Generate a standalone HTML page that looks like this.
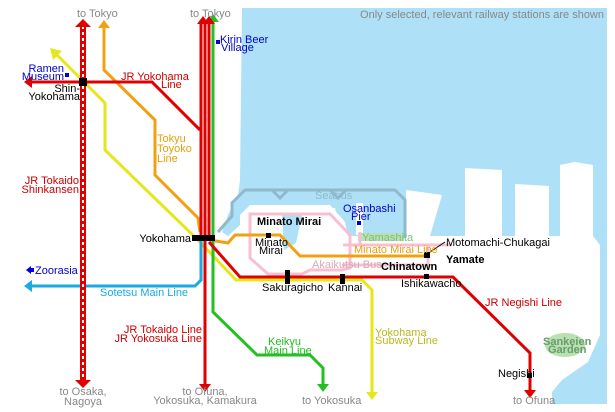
<!DOCTYPE html>
<html><head><meta charset="utf-8"><style>
html,body{margin:0;padding:0;background:#fff;}
svg{display:block;}
text{font-family:"Liberation Sans",sans-serif;font-size:11px;}
</style></head><body>
<svg width="615" height="412" viewBox="0 0 615 412" xmlns="http://www.w3.org/2000/svg">
<rect width="615" height="412" fill="#fff"/>
<!-- water -->
<path d="M242,8 L607,8 L607,404 L552,404 L552,392 L562,380 L588,362 L600,335 L600,245 L593,236 L593,165 L575,162 L560,165 L560,236 L549,236 L549,186 L515,184 L515,236 L502,236 L502,170 L465,168 L465,236 L442,236 L430,236 L442,195 L406,190 L406,236 L348,236 L345,222 L330,205 L250,205 L240,215 L240,225 L228,236 L222,232 L228,215 L238,195 L240,180 Z" fill="#aee1f7"/>
<path d="M282,215 L302,215 L296,243 L284,250 Z" fill="#aee1f7"/>
<path d="M305,208 L335,208 L338,222 L320,230 L305,222 Z" fill="#fff"/>
<rect x="356" y="203" width="7" height="32" fill="#fff"/>
<rect x="358" y="233" width="46" height="8" fill="#b8e0b0"/>
<ellipse cx="565" cy="345" rx="20" ry="12" fill="#b8e0b0"/>
<!-- seabus -->
<path d="M218,232 L232,216 L232,203 L245,190 L395,190 L405,200 L405,238" fill="none" stroke="#8fb9cc" stroke-width="3"/>
<path d="M272,190 L280,198 L288,190 M330,190 L338,198 L346,190" fill="none" stroke="#8fb9cc" stroke-width="3"/>
<!-- pink bus -->
<g fill="none" stroke="#f7c0d0" stroke-width="3">
<path d="M250,214 L330,214 L350,235 L350,268 L342,270 L310,270 L302,274 L268,274 L250,258 Z"/>
<path d="M343,245 L428,245 L428,265 L342,265 M428,245 L452,245"/>
<path d="M360,232 L360,245"/>
</g>
<!-- orange toyoko / MM line -->
<path d="M104,22 L104,70 L155,120 L155,175 L198,218 L200,232 M210,240 L228,243 L235,235 L280,235 L300,256 L430,256" fill="none" stroke="#f0a010" stroke-width="3"/>
<polygon points="98,28 104,20 110,28" fill="#f0a010"/>
<!-- yellow -->
<path d="M55,53 L105,103 L105,150 L198,240 L236,280 L362,280 L372,290 L372,394" fill="none" stroke="#e6e61a" stroke-width="3"/>
<polygon points="50,48 62,51 53,60" fill="#e6e61a"/>
<polygon points="366,392 378,392 372,400" fill="#e6e61a"/>
<!-- blue sotetsu -->
<path d="M201,238 L201,280 L195,286 L30,286" fill="none" stroke="#1aaae0" stroke-width="3"/>
<polygon points="24,286 32,280 32,292" fill="#1aaae0"/>
<!-- green keikyu -->
<path d="M213,22 L213,312 L257,355 L310,355 L323,368 L323,384" fill="none" stroke="#22c022" stroke-width="3"/>
<polygon points="207,22 213,14 219,22" fill="#22c022"/>
<polygon points="317,384 329,384 323,392" fill="#22c022"/>
<!-- red JR -->
<path d="M30,82 L152,82 L200,130" fill="none" stroke="#e00000" stroke-width="3"/>
<polygon points="24,82 32,76 32,88" fill="#e00000"/>
<path d="M201,130 L201,238 M205,22 L205,386 M209,22 L209,238 M201,22 L201,132" fill="none" stroke="#e00000" stroke-width="3"/>
<polygon points="197,24 203,16 209,24" fill="#e00000"/>
<polygon points="203,24 209,16 215,24" fill="#e00000"/>
<polygon points="199,384 211,384 205,392" fill="#e00000"/>
<path d="M209,242 L240,277 L453,277 L530,353 L530,390" fill="none" stroke="#e00000" stroke-width="3"/>
<polygon points="524,390 536,390 530,398" fill="#e00000"/>
<!-- shinkansen -->
<line x1="83" y1="26" x2="83" y2="382" stroke="#e00000" stroke-width="6"/>
<line x1="83" y1="26" x2="83" y2="382" stroke="#fff" stroke-width="2" stroke-dasharray="3,3"/>
<polygon points="75,27 83,19 91,27" fill="#e00000"/>
<polygon points="75,380 91,380 83,388" fill="#e00000"/>
<!-- stations -->
<rect x="79" y="78" width="8" height="8" fill="#000"/>
<rect x="192" y="235" width="23" height="6" fill="#000"/>
<rect x="266" y="233" width="5" height="5" fill="#000"/>
<rect x="285" y="270" width="5" height="14" fill="#000"/>
<rect x="340" y="274" width="5" height="10" fill="#000"/>
<rect x="424" y="274" width="5" height="5" fill="#000"/>
<rect x="424" y="252" width="6" height="6" fill="#000"/>
<rect x="527" y="373" width="5" height="5" fill="#000"/>
<line x1="430" y1="252" x2="445" y2="242" stroke="#000" stroke-width="1"/>
<rect x="65" y="73" width="4" height="4" fill="#0000dd"/>
<rect x="216" y="40" width="4" height="4" fill="#0000dd"/>
<rect x="357" y="221" width="4" height="4" fill="#0000dd"/>
<polygon points="26,270 31,266 31,274" fill="#0000dd"/><rect x="31" y="268" width="3" height="4" fill="#0000dd"/>
<!-- labels -->
<g fill="#888" font-size="10">
<text x="77" y="17" font-size="11">to Tokyo</text>
<text x="190" y="17" font-size="11">to Tokyo</text>
<text x="604" y="18" text-anchor="end">Only selected, relevant railway stations are shown</text>
<text x="83" y="395" text-anchor="middle">to Osaka,</text><text x="83" y="405" text-anchor="middle">Nagoya</text>
<text x="205" y="395" text-anchor="middle">to Ofuna,</text><text x="205" y="404" text-anchor="middle">Yokosuka, Kamakura</text>
<text x="302" y="404">to Yokosuka</text>
<text x="513" y="404">to Ofuna</text>
</g>
<g fill="#0000cc" font-size="10">
<text x="64" y="72" text-anchor="end">Ramen</text><text x="64" y="80" text-anchor="end">Museum</text>
<text x="220" y="43">Kirin Beer</text><text x="221" y="51">Village</text>
<text x="343" y="212">Osanbashi</text><text x="351" y="220">Pier</text>
<text x="35" y="274">Zoorasia</text>
</g>
<g fill="#000" font-size="10">
<text x="80" y="92" text-anchor="end">Shin-</text><text x="80" y="100" text-anchor="end">Yokohama</text>
<text x="191" y="242" text-anchor="end">Yokohama</text>
<text x="255" y="246">Minato</text><text x="259" y="254">Mirai</text>
<text x="262" y="291">Sakuragicho</text>
<text x="328" y="291">Kannai</text>
<text x="401" y="287">Ishikawacho</text>
<text x="446" y="246">Motomachi-Chukagai</text>
<text x="498" y="377">Negishi</text>
</g>
<g fill="#000" font-weight="bold" font-size="11">
<text x="257" y="225">Minato Mirai</text>
<text x="381" y="270">Chinatown</text>
<text x="446" y="263">Yamate</text>
</g>
<g fill="#cc0000" font-size="10">
<text x="121" y="80">JR Yokohama</text><text x="161" y="88">Line</text>
<text x="79" y="184" text-anchor="end">JR Tokaido</text><text x="79" y="193" text-anchor="end">Shinkansen</text>
<text x="202" y="333" text-anchor="end">JR Tokaido Line</text><text x="202" y="342" text-anchor="end">JR Yokosuka Line</text>
<text x="485" y="306">JR Negishi Line</text>
</g>
<g fill="#e8a010" font-size="10">
<text x="157" y="142">Tokyu</text><text x="157" y="152">Toyoko</text><text x="157" y="162">Line</text>
<text x="354" y="253">Minato Mirai Line</text>
</g>
<g fill="#b8b820" font-size="10">
<text x="375" y="336">Yokohama</text><text x="375" y="344">Subway Line</text>
</g>
<g fill="#22bb22" font-size="10"><text x="268" y="345">Keikyu</text><text x="264" y="354">Main Line</text></g>
<text x="100" y="296" fill="#1aaae0" font-size="10">Sotetsu Main Line</text>
<text x="315" y="199" fill="#8fb9cc" font-size="10">Seabus</text>
<text x="312" y="268" fill="#d8a8b8" font-size="10">Akaikutsu Bus</text>
<text x="362" y="241" fill="#80c080" font-size="10">Yamashita</text>
<g fill="#6a9a6a" font-size="10" font-weight="bold"><text x="543" y="345">Sankeien</text><text x="548" y="353">Garden</text></g>
</svg>
</body></html>
